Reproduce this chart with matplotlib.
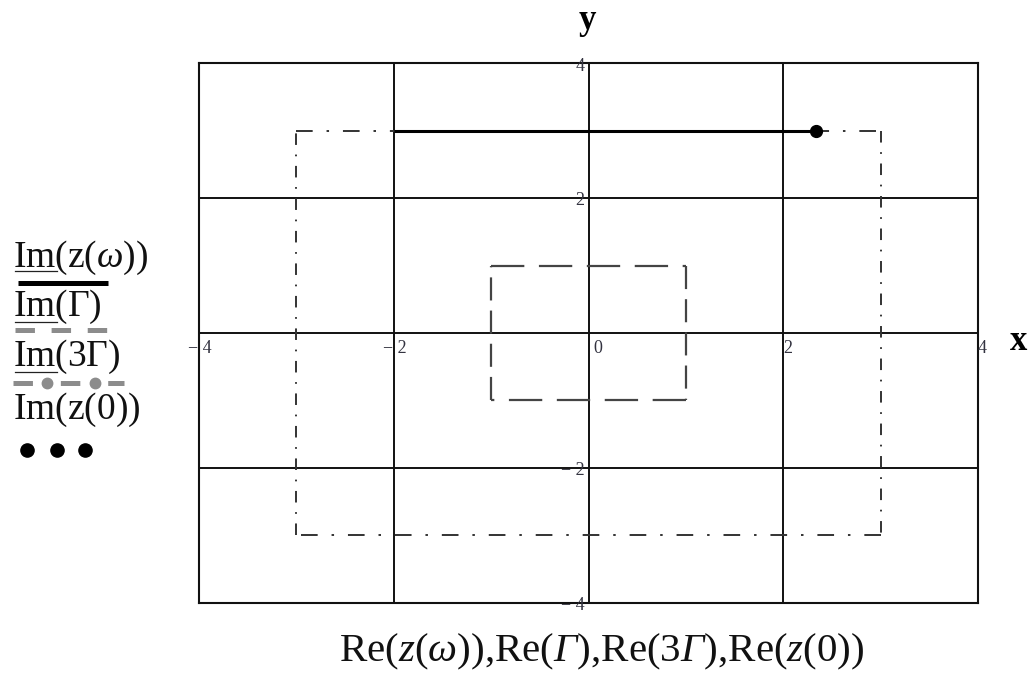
import matplotlib
matplotlib.use("Agg")
import matplotlib.pyplot as plt
from matplotlib.lines import Line2D

plt.rcParams["mathtext.fontset"] = "custom"
plt.rcParams["mathtext.rm"] = "Liberation Serif"
plt.rcParams["mathtext.it"] = "Liberation Serif:italic"
plt.rcParams["mathtext.sf"] = "Liberation Serif:italic"
plt.rcParams["mathtext.bf"] = "Liberation Serif:bold"
plt.rcParams["lines.scale_dashes"] = False

# ---- data -------------------------------------------------------------
axis_limits = [-4, 4]
tick_values = [-4, -2, 0, 2, 4]
grid_values = [-2, 0, 2]

# Gamma contour: square of half-width 1; 3*Gamma: same scaled by 3
gamma_re = [-1, 1, 1, -1, -1]
gamma_im = [1, 1, -1, -1, 1]
gamma3_re = [3 * v for v in gamma_re]
gamma3_im = [3 * v for v in gamma_im]

# image path z(omega) and the point z(0)
zw_re = [-2.0, 2.34]
zw_im = [3.0, 3.0]
z0_re = [2.34]
z0_im = [3.0]

legend_labels = [r"$\mathrm{Im}(\mathrm{z}(\omega))$",
                 r"$\mathrm{Im}(\Gamma)$",
                 r"$\mathrm{Im}(3\Gamma)$",
                 r"$\mathrm{Im}(\mathrm{z}(0))$"]
# italic capital Gamma goes through the sf alias (mapped to the italic face)
x_title = (r"$\mathrm{Re}(z(\omega)){,}\mathrm{Re}(\mathsf{Γ}){,}"
           r"\mathrm{Re}(3\mathsf{Γ}){,}\mathrm{Re}(z(0))$")

# ---- figure -----------------------------------------------------------
W, H = 1036, 673
AX_W, AX_H = 779, 539.4
fig = plt.figure(figsize=(W / 100, H / 100), dpi=100)
ax = fig.add_axes([199 / W, 1 - 602.7 / H, AX_W / W, AX_H / H])
ax.set_xlim(axis_limits)
ax.set_ylim(axis_limits)
ax.set_xticks([])
ax.set_yticks([])
for sp in ax.spines.values():
    sp.set_linewidth(1.5)
    sp.set_color("#111111")

for g in grid_values:
    ax.axvline(g, color="#111111", lw=1.4, zorder=1)
    ax.axhline(g, color="#111111", lw=1.4, zorder=1)

# dash lengths follow the data scale, so vertical sides get shorter dashes
y_ratio = AX_H / AX_W


def styled_polyline(xs, ys, pattern, **kw):
    for i in range(len(xs) - 1):
        vertical = xs[i] == xs[i + 1]
        pat = tuple(p * y_ratio for p in pattern) if vertical else pattern
        ax.plot(xs[i:i + 2], ys[i:i + 2], linestyle=(0, pat), **kw)


styled_polyline(gamma_re, gamma_im, (24, 10.5),
                color="#444444", lw=1.6, zorder=2, dash_capstyle="butt")
styled_polyline(gamma3_re, gamma3_im, (12, 10, 1.8, 10),
                color="#333333", lw=1.4, zorder=2, dash_capstyle="butt")
ax.plot(zw_re, zw_im, color="#000000", lw=2.2, zorder=3,
        solid_capstyle="butt")
ax.plot(z0_re, z0_im, "o", color="#000000", ms=8.5, zorder=4)

# tick labels sitting beside the axis lines through the origin
tick_font = dict(family="Liberation Serif", fontsize=13, color="#333340")
for v in tick_values:
    s = f"\u2212 {abs(v)}" if v < 0 else f"{v}"
    dx = -11 if v < 0 else (5 if v == 0 else 0)
    ax.annotate(s, (v, 0), xytext=(dx * 0.72, -11), textcoords="offset points",
                ha="left", va="center", **tick_font)
for v in tick_values:
    if v == 0:
        continue
    s = f"\u2212 {abs(v)}" if v < 0 else f"{v}"
    ax.annotate(s, (0, v), xytext=(-3, -2), textcoords="offset points",
                ha="right", va="center", **tick_font)

# axis names
fig.text(588 / W, 1 - 22 / H, r"$\mathbf{y}$", fontsize=25,
         ha="center", va="center")
fig.text(1019 / W, 1 - 340 / H, r"$\mathbf{x}$", fontsize=25,
         ha="center", va="center")
fig.text(602 / W, 1 - 652 / H, x_title, fontsize=29.5,
         ha="center", va="center", color="#111111")


# ---- legend block at left ---------------------------------------------
def fx(x):
    return x / W


def fy(y):
    return 1 - y / H


text_centers = [258, 307, 357, 410]
for lab, cy in zip(legend_labels, text_centers):
    fig.text(fx(13), fy(cy), lab, fontsize=27, ha="left",
             va="center", color="#111111")

# underline under "Im" for the first three entries
for base in [271, 322, 372]:
    fig.add_artist(Line2D([fx(15), fx(57)], [fy(base), fy(base)],
                          color="#222222", lw=0.9))

fig.add_artist(Line2D([fx(18), fx(108)], [fy(283), fy(283)],
                      color="#000000", lw=3.6, solid_capstyle="butt"))
fig.add_artist(Line2D([fx(15), fx(110)], [fy(330), fy(330)],
                      color="#8c8c8c", lw=3.6,
                      linestyle=(0, (14, 12)), dash_capstyle="butt"))
fig.add_artist(Line2D([fx(13), fx(124)], [fy(383), fy(383)],
                      color="#8c8c8c", lw=3.6,
                      linestyle=(0, (14, 10, 0.1, 10)), dash_capstyle="butt"))
fig.add_artist(Line2D([fx(47), fx(95)], [fy(383), fy(383)],
                      color="#8c8c8c", lw=0, marker="o", ms=7.5,
                      markevery=[0, 1]))
fig.add_artist(Line2D([fx(27), fx(57), fx(85)], [fy(450)] * 3,
                      color="#000000", lw=0, marker="o", ms=9.5))

fig.savefig("out.png", dpi=100)
